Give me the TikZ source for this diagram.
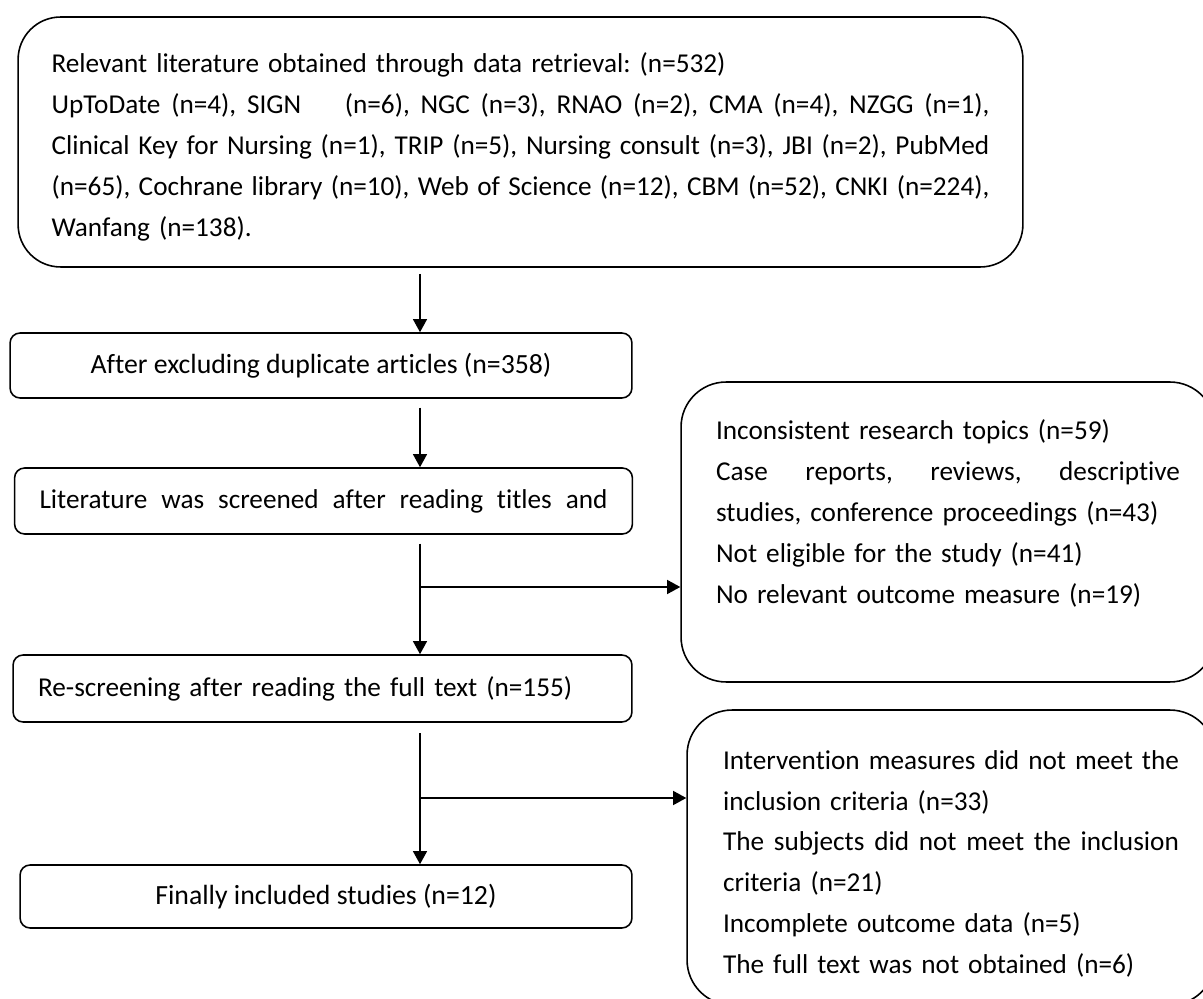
\documentclass[tikz,border=0pt]{standalone}
\usepackage{fontspec}
\setmainfont{Carlito}[Ligatures=NoCommon]
\usepackage{tikz}
\usetikzlibrary{arrows.meta,positioning,calc}
\newcommand{\fullline}[2]{\makebox[#1][s]{\spaceskip=0.226em plus 1fil minus 0.06em #2}}
\frenchspacing

\begin{document}
\begin{tikzpicture}[x=0.02cm,y=-0.02cm,
  txt/.style={font=\fontsize{15.5}{23.3}\selectfont},
  source/.style={draw,line width=0.9pt,rounded corners=0.85cm,minimum width=20.1cm,minimum height=5cm,text width=18.76cm,align=left,inner sep=0pt,txt},
  stage/.style={draw,line width=0.9pt,rounded corners=0.2cm,minimum height=1.3cm,inner xsep=0.5cm,inner ysep=0pt,txt},
  excl/.style={draw,line width=0.9pt,rounded corners=0.9cm,align=left,inner sep=0pt,txt},
  arr/.style={line width=0.9pt,-{Triangle[length=7.5pt,width=8pt]}}]
  \useasboundingbox (0,0) rectangle (1203,999);
  \clip (0,0) rectangle (1203,999);
  \node[source] (search) at (520.5,142) {\rule{0pt}{16.5pt}Relevant literature obtained through data retrieval: (n=532)\\
    \fullline{18.76cm}{UpToDate (n=4), SIGN\hspace{1.6em}(n=6), NGC (n=3), RNAO (n=2), CMA (n=4), NZGG (n=1),}\\
    \fullline{18.76cm}{Clinical Key for Nursing (n=1), TRIP (n=5), Nursing consult (n=3), JBI (n=2), PubMed}\\
    \fullline{18.76cm}{(n=65), Cochrane library (n=10), Web of Science (n=12), CBM (n=52), CNKI (n=224),}\\
    Wanfang (n=138).};
  \node[stage,minimum width=12.44cm,font=\fontsize{15.8}{23.3}\selectfont] (dedup) at (321,365.5) {After excluding duplicate articles (n=358)};
  \node[stage,minimum width=12.34cm,minimum height=1.32cm,text width=11.36cm] (screen) at (323.5,501) {\fullline{11.36cm}{Literature was screened after reading titles and}};
  \node[stage,minimum height=1.34cm,text width=11.38cm,align=left] (fulltext) at (322.5,688.5) {Re-screening after reading the full text (n=155)};
  \node[stage,minimum width=12.24cm,minimum height=1.26cm,font=\fontsize{15.8}{23.3}\selectfont] (final) at (326,896.5) {Finally included studies (n=12)};
  \node[excl,minimum width=10.68cm,minimum height=6cm,text width=9.28cm] (excl1) at (948,532) {Inconsistent research topics (n=59)\\
    \fullline{9.28cm}{Case reports, reviews, descriptive}\\
    studies, conference proceedings (n=43)\\
    Not eligible for the study (n=41)\\
    No relevant outcome measure (n=19)\\
    \mbox{}};
  \node[excl,minimum width=10.56cm,minimum height=5.9cm,text width=9.12cm] (excl2) at (951,857.5) {\rule{0pt}{18pt}\fullline{9.12cm}{Intervention measures did not meet the}\\
    inclusion criteria (n=33)\\
    \fullline{9.12cm}{The subjects did not meet the inclusion}\\
    criteria (n=21)\\
    Incomplete outcome data (n=5)\\
    The full text was not obtained (n=6)};
  \coordinate (spine) at (420,0);
  \coordinate (b1) at (420,587);
  \coordinate (b2) at (420,798);
  \draw[arr] ([yshift=-3.5pt]spine |- search.south) -- (spine |- dedup.north);
  \draw[arr] ([yshift=-5pt]spine |- dedup.south) -- (spine |- screen.north);
  \draw[arr] ([yshift=-5pt]spine |- screen.south) -- (spine |- fulltext.north);
  \draw[arr] (b1) -- (b1 -| excl1.west);
  \draw[arr] ([yshift=-6pt]spine |- fulltext.south) -- (spine |- final.north);
  \draw[arr] (b2) -- (b2 -| excl2.west);
\end{tikzpicture}
\end{document}
